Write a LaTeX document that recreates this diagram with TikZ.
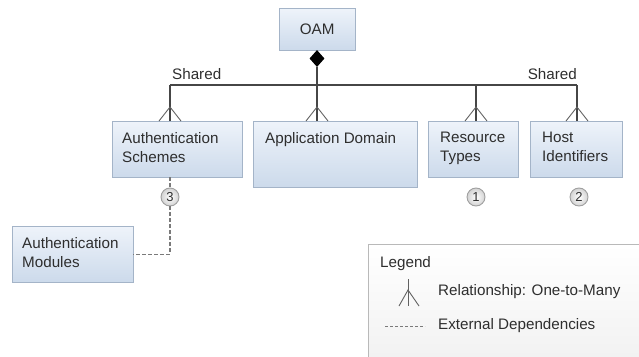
\documentclass[tikz,border=0pt]{standalone}
\usepackage{fontspec}
\setmainfont{Liberation Sans}
\usetikzlibrary{calc,positioning,shapes.geometric,shadows}
\definecolor{oamline}{HTML}{464646}
\definecolor{oamtext}{HTML}{2E2E2E}
\definecolor{oamboxtop}{HTML}{EEF3FA}
\definecolor{oamboxbot}{HTML}{CCDAEB}
\definecolor{oamborder}{HTML}{A4B4C8}
\definecolor{oamdash}{HTML}{7A7A7A}
\definecolor{oamlegend}{HTML}{F0F0F0}

\begin{document}
\begin{tikzpicture}[x=1pt,y=-1pt,
  every node/.style={font=\fontsize{15.2}{19}\selectfont,text=oamtext},
  entity/.style={draw=oamborder,top color=oamboxtop,bottom color=oamboxbot,inner sep=0pt,anchor=north west,
    drop shadow={shadow xshift=1pt,shadow yshift=-1pt,opacity=0.25}},
  entitytext/.style={anchor=north west,align=left,inner sep=0pt},
  conn/.style={draw=oamline,line width=1.1pt},
  foot/.style={draw=oamline!85,line width=0.9pt},
  dep/.style={draw=oamdash,line width=1.1pt,dash pattern=on 3.5pt off 2.5pt},
  num/.style={circle,draw=gray!75,line width=0.9pt,inner color=white,outer color=gray!35,minimum size=18pt,inner sep=0pt,font=\fontsize{13}{13}\selectfont}
]
\useasboundingbox (0,0) rectangle (639,356);

\node[entity,minimum width=76pt,minimum height=42pt] (oam) at (279,8) {OAM};
\node[diamond,fill=black,inner sep=0pt,minimum width=15pt,minimum height=17pt] (agg) at (317,58.5) {};

\node[entity,minimum width=130pt,minimum height=56pt] (schemes) at (112,121) {};
\node[entitytext] (schemes-txt) at ([shift={(10,11)}]schemes.north west) {Authentication\\Schemes};
\node[entity,minimum width=164pt,minimum height=66pt] (appdomain) at (253,121) {};
\node[entitytext] (appdomain-txt) at ([shift={(12,11)}]appdomain.north west) {Application Domain};
\node[entity,minimum width=90pt,minimum height=56pt] (restypes) at (428,121) {};
\node[entitytext] (restypes-txt) at ([shift={(12,11)}]restypes.north west) {Resource\\Types};
\node[entity,minimum width=92pt,minimum height=56pt] (hostids) at (530,121) {};
\node[entitytext] (hostids-txt) at ([shift={(12,11)}]hostids.north west) {Host\\Identifiers};
\node[entity,minimum width=121pt,minimum height=56pt] (modules) at (12,226) {};
\node[entitytext] (modules-txt) at ([shift={(10,11)}]modules.north west) {Authentication\\Modules};

\coordinate (drop-schemes) at (170,85);
\coordinate (drop-appdomain) at (317,85);
\coordinate (drop-restypes) at (476,85);
\coordinate (drop-hostids) at (577,85);
\draw[conn] (agg.south) -- (drop-appdomain);
\draw[conn] (drop-schemes) -- (drop-hostids);
\foreach \ent in {schemes,appdomain,restypes,hostids} {
  \draw[conn] (drop-\ent) -- (drop-\ent |- \ent.north);
  \draw[foot] ($(drop-\ent |- \ent.north)+(-11,0)$) -- ($(drop-\ent |- \ent.north)+(0,-14)$) -- ($(drop-\ent |- \ent.north)+(11,0)$);
}
\node[anchor=base west,inner sep=0pt] (shared-w) at (172,79) {Shared};
\node[anchor=base east,inner sep=0pt] (shared-e) at (577,79) {Shared};

\node[num] (num3) at (170,197) {3};
\node[num] (num1) at (476,197) {1};
\node[num] (num2) at (579,197) {2};
\draw[dep] (num3 |- schemes.south) -- (num3.north);
\draw[dep] (num3.south) |- (modules.east);

\node[draw=gray!55,top color=white,bottom color=oamlegend,minimum width=290pt,minimum height=130pt,anchor=north west,inner sep=0pt] (legend) at (368,244) {};
\node[anchor=base west,inner sep=0pt] (legend-title) at (380,267) {Legend};
\coordinate (key-top) at (408,279);
\coordinate (key-fork) at (408,290);
\draw[foot] (key-top) -- ++(0,27);
\draw[foot] ($(key-fork)+(-9,16)$) -- (key-fork) -- ($(key-fork)+(11,16)$);
\node[anchor=west,inner sep=0pt] (key-rel) at (438,292) {Relationship: One-to-Many};
\node[anchor=west,inner sep=0pt] (key-ext) at (438,326) {External Dependencies};
\coordinate (key-dash) at (385,326);
\draw[dep,line width=0.8pt,dash pattern=on 2.5pt off 2.5pt] (key-dash) -- ($(key-ext.west)+(-13,0)$);
\end{tikzpicture}
\end{document}
